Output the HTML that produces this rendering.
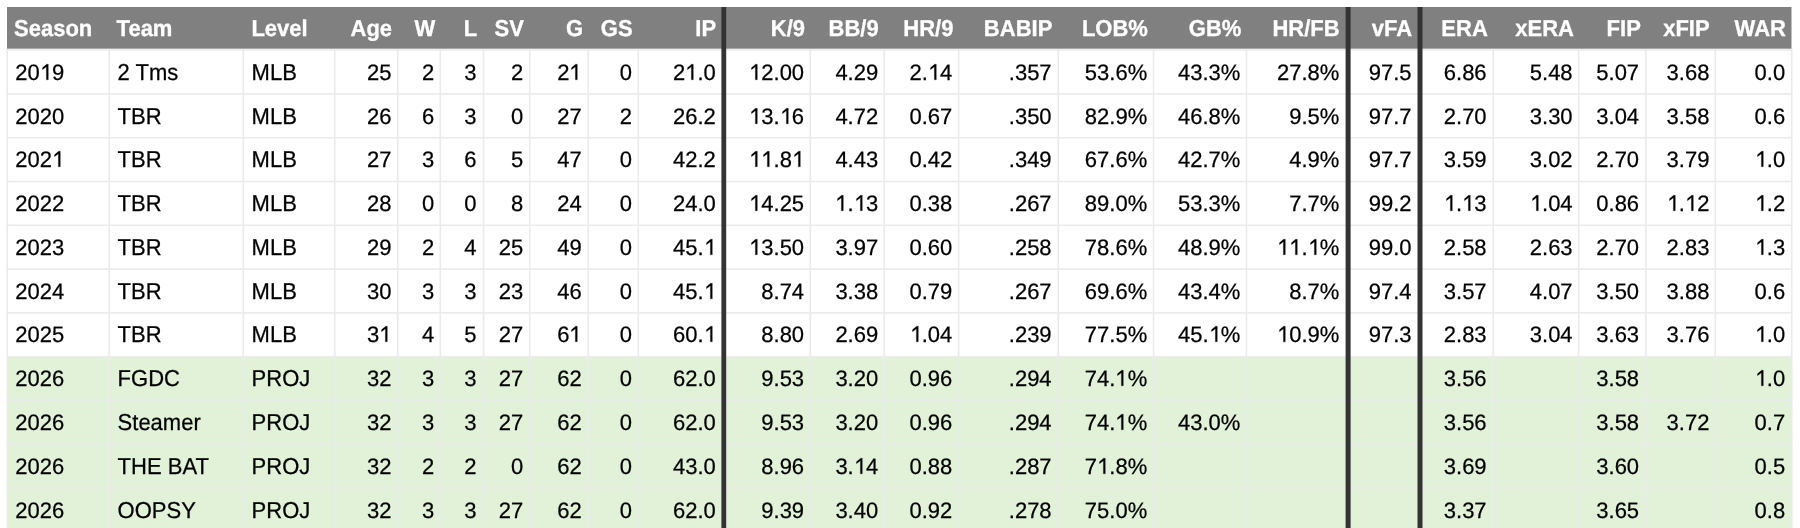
<!DOCTYPE html>
<html><head><meta charset="utf-8"><title>Pitching Stats</title>
<style>
html,body{margin:0;padding:0;background:#fff;}
body{width:1800px;height:528px;overflow:hidden;position:relative;font-family:"Liberation Sans",sans-serif;font-size:22px;color:#000;}
.bg{position:absolute;left:0;top:0;}
.tl{position:absolute;left:0;top:0;width:1800px;height:528px;will-change:transform;}
.t{position:absolute;white-space:nowrap;line-height:1;text-rendering:geometricPrecision;transform:scaleY(1.045);transform-origin:0 17.6px;-webkit-text-stroke:0.25px currentColor;}
.o{display:inline-block;width:12.232px;height:15.840px;vertical-align:baseline;fill:currentColor;stroke:currentColor;stroke-width:11.4;overflow:visible;}
.th{font-weight:bold;color:#fff;-webkit-text-stroke:0.3px #fff;}
</style></head><body>
<svg class="bg" width="1800" height="528" viewBox="0 0 1800 528"><rect x="7.00" y="7.00" width="1784.50" height="41.80" fill="#808080"/><rect x="7.00" y="356.66" width="1784.50" height="44.28" fill="#e1f2d9"/><rect x="7.00" y="400.44" width="1784.50" height="44.28" fill="#e1f2d9"/><rect x="7.00" y="444.22" width="1784.50" height="44.28" fill="#e1f2d9"/><rect x="7.00" y="488.00" width="1784.50" height="44.28" fill="#e1f2d9"/><rect x="6.20" y="48.80" width="1786.10" height="1.80" fill="#ebebeb"/><rect x="6.20" y="93.18" width="1786.10" height="1.60" fill="#ebebeb"/><rect x="6.20" y="136.96" width="1786.10" height="1.60" fill="#ebebeb"/><rect x="6.20" y="180.74" width="1786.10" height="1.60" fill="#ebebeb"/><rect x="6.20" y="224.52" width="1786.10" height="1.60" fill="#ebebeb"/><rect x="6.20" y="268.30" width="1786.10" height="1.60" fill="#ebebeb"/><rect x="6.20" y="312.08" width="1786.10" height="1.60" fill="#ebebeb"/><rect x="6.20" y="355.86" width="1786.10" height="1.60" fill="#ebebeb"/><rect x="6.20" y="399.64" width="1786.10" height="1.60" fill="#ebebeb"/><rect x="6.20" y="443.42" width="1786.10" height="1.60" fill="#ebebeb"/><rect x="6.20" y="487.20" width="1786.10" height="1.60" fill="#ebebeb"/><rect x="6.45" y="49.60" width="1.60" height="479.20" fill="#ebebeb"/><rect x="108.45" y="49.60" width="1.60" height="479.20" fill="#ebebeb"/><rect x="242.45" y="49.60" width="1.60" height="479.20" fill="#ebebeb"/><rect x="333.95" y="49.60" width="1.60" height="479.20" fill="#ebebeb"/><rect x="396.95" y="49.60" width="1.60" height="479.20" fill="#ebebeb"/><rect x="439.45" y="49.60" width="1.60" height="479.20" fill="#ebebeb"/><rect x="482.75" y="49.60" width="1.60" height="479.20" fill="#ebebeb"/><rect x="528.95" y="49.60" width="1.60" height="479.20" fill="#ebebeb"/><rect x="587.45" y="49.60" width="1.60" height="479.20" fill="#ebebeb"/><rect x="637.45" y="49.60" width="1.60" height="479.20" fill="#ebebeb"/><rect x="809.45" y="49.60" width="1.60" height="479.20" fill="#ebebeb"/><rect x="883.45" y="49.60" width="1.60" height="479.20" fill="#ebebeb"/><rect x="957.85" y="49.60" width="1.60" height="479.20" fill="#ebebeb"/><rect x="1057.45" y="49.60" width="1.60" height="479.20" fill="#ebebeb"/><rect x="1152.75" y="49.60" width="1.60" height="479.20" fill="#ebebeb"/><rect x="1245.65" y="49.60" width="1.60" height="479.20" fill="#ebebeb"/><rect x="1492.45" y="49.60" width="1.60" height="479.20" fill="#ebebeb"/><rect x="1577.85" y="49.60" width="1.60" height="479.20" fill="#ebebeb"/><rect x="1645.05" y="49.60" width="1.60" height="479.20" fill="#ebebeb"/><rect x="1714.45" y="49.60" width="1.60" height="479.20" fill="#ebebeb"/><rect x="1790.95" y="49.60" width="1.60" height="479.20" fill="#ebebeb"/><rect x="721.40" y="7.00" width="4.80" height="521.00" fill="#333333"/><rect x="1345.60" y="7.00" width="5.00" height="521.00" fill="#333333"/><rect x="1417.50" y="7.00" width="5.00" height="521.00" fill="#333333"/></svg>
<div class="tl">
<div class="t th" style="left:14.00px;top:18.00px">Season</div>
<div class="t th" style="left:116.60px;top:18.00px">Team</div>
<div class="t th" style="left:251.40px;top:18.00px">Level</div>
<div class="t th" style="right:1407.90px;top:18.00px">Age</div>
<div class="t th" style="right:1364.70px;top:18.00px">W</div>
<div class="t th" style="right:1322.80px;top:18.00px">L</div>
<div class="t th" style="right:1276.10px;top:18.00px">SV</div>
<div class="t th" style="right:1217.00px;top:18.00px">G</div>
<div class="t th" style="right:1167.40px;top:18.00px">GS</div>
<div class="t th" style="right:1083.90px;top:18.00px">IP</div>
<div class="t th" style="right:994.90px;top:18.00px">K/9</div>
<div class="t th" style="right:921.30px;top:18.00px">BB/9</div>
<div class="t th" style="right:846.60px;top:18.00px">HR/9</div>
<div class="t th" style="right:747.70px;top:18.00px">BABIP</div>
<div class="t th" style="right:652.10px;top:18.00px">LOB%</div>
<div class="t th" style="right:558.60px;top:18.00px">GB%</div>
<div class="t th" style="right:460.40px;top:18.00px">HR/FB</div>
<div class="t th" style="right:387.90px;top:18.00px">vFA</div>
<div class="t th" style="right:312.20px;top:18.00px">ERA</div>
<div class="t th" style="right:226.10px;top:18.00px">xERA</div>
<div class="t th" style="right:159.20px;top:18.00px">FIP</div>
<div class="t th" style="right:90.40px;top:18.00px">xFIP</div>
<div class="t th" style="right:14.10px;top:18.00px">WAR</div>
<div class="t" style="transform:scaleY(1.0120);left:15.20px;top:61.80px">20<svg class="o" viewBox="0 -720 556 720"><path d="M378 0L290 0L290 -585L112 -458L112 -540L300 -702L378 -702Z"/></svg>9</div>
<div class="t" style="left:117.60px;top:61.80px">2 Tms</div>
<div class="t" style="left:251.60px;top:61.80px">MLB</div>
<div class="t" style="transform:scaleY(1.0120);right:1408.60px;top:61.80px">25</div>
<div class="t" style="transform:scaleY(1.0120);right:1365.80px;top:61.80px">2</div>
<div class="t" style="transform:scaleY(1.0120);right:1323.50px;top:61.80px">3</div>
<div class="t" style="transform:scaleY(1.0120);right:1276.80px;top:61.80px">2</div>
<div class="t" style="transform:scaleY(1.0120);right:1218.30px;top:61.80px">2<svg class="o" viewBox="0 -720 556 720"><path d="M378 0L290 0L290 -585L112 -458L112 -540L300 -702L378 -702Z"/></svg></div>
<div class="t" style="transform:scaleY(1.0120);right:1168.10px;top:61.80px">0</div>
<div class="t" style="transform:scaleY(1.0120);right:1084.20px;top:61.80px">2<svg class="o" viewBox="0 -720 556 720"><path d="M378 0L290 0L290 -585L112 -458L112 -540L300 -702L378 -702Z"/></svg>.0</div>
<div class="t" style="transform:scaleY(1.0120);right:995.90px;top:61.80px"><svg class="o" viewBox="0 -720 556 720"><path d="M378 0L290 0L290 -585L112 -458L112 -540L300 -702L378 -702Z"/></svg>2.00</div>
<div class="t" style="transform:scaleY(1.0120);right:921.80px;top:61.80px">4.29</div>
<div class="t" style="transform:scaleY(1.0120);right:847.70px;top:61.80px">2.<svg class="o" viewBox="0 -720 556 720"><path d="M378 0L290 0L290 -585L112 -458L112 -540L300 -702L378 -702Z"/></svg>4</div>
<div class="t" style="transform:scaleY(1.0120);right:748.40px;top:61.80px">.357</div>
<div class="t" style="transform:scaleY(1.0120);right:652.80px;top:61.80px">53.6%</div>
<div class="t" style="transform:scaleY(1.0120);right:559.60px;top:61.80px">43.3%</div>
<div class="t" style="transform:scaleY(1.0120);right:460.60px;top:61.80px">27.8%</div>
<div class="t" style="transform:scaleY(1.0120);right:388.40px;top:61.80px">97.5</div>
<div class="t" style="transform:scaleY(1.0120);right:313.40px;top:61.80px">6.86</div>
<div class="t" style="transform:scaleY(1.0120);right:227.40px;top:61.80px">5.48</div>
<div class="t" style="transform:scaleY(1.0120);right:160.90px;top:61.80px">5.07</div>
<div class="t" style="transform:scaleY(1.0120);right:90.60px;top:61.80px">3.68</div>
<div class="t" style="transform:scaleY(1.0120);right:14.80px;top:61.80px">0.0</div>
<div class="t" style="transform:scaleY(1.0120);left:15.20px;top:105.58px">2020</div>
<div class="t" style="left:117.60px;top:105.58px">TBR</div>
<div class="t" style="left:251.60px;top:105.58px">MLB</div>
<div class="t" style="transform:scaleY(1.0120);right:1408.60px;top:105.58px">26</div>
<div class="t" style="transform:scaleY(1.0120);right:1365.80px;top:105.58px">6</div>
<div class="t" style="transform:scaleY(1.0120);right:1323.50px;top:105.58px">3</div>
<div class="t" style="transform:scaleY(1.0120);right:1276.80px;top:105.58px">0</div>
<div class="t" style="transform:scaleY(1.0120);right:1218.30px;top:105.58px">27</div>
<div class="t" style="transform:scaleY(1.0120);right:1168.10px;top:105.58px">2</div>
<div class="t" style="transform:scaleY(1.0120);right:1084.20px;top:105.58px">26.2</div>
<div class="t" style="transform:scaleY(1.0120);right:995.90px;top:105.58px"><svg class="o" viewBox="0 -720 556 720"><path d="M378 0L290 0L290 -585L112 -458L112 -540L300 -702L378 -702Z"/></svg>3.<svg class="o" viewBox="0 -720 556 720"><path d="M378 0L290 0L290 -585L112 -458L112 -540L300 -702L378 -702Z"/></svg>6</div>
<div class="t" style="transform:scaleY(1.0120);right:921.80px;top:105.58px">4.72</div>
<div class="t" style="transform:scaleY(1.0120);right:847.70px;top:105.58px">0.67</div>
<div class="t" style="transform:scaleY(1.0120);right:748.40px;top:105.58px">.350</div>
<div class="t" style="transform:scaleY(1.0120);right:652.80px;top:105.58px">82.9%</div>
<div class="t" style="transform:scaleY(1.0120);right:559.60px;top:105.58px">46.8%</div>
<div class="t" style="transform:scaleY(1.0120);right:460.60px;top:105.58px">9.5%</div>
<div class="t" style="transform:scaleY(1.0120);right:388.40px;top:105.58px">97.7</div>
<div class="t" style="transform:scaleY(1.0120);right:313.40px;top:105.58px">2.70</div>
<div class="t" style="transform:scaleY(1.0120);right:227.40px;top:105.58px">3.30</div>
<div class="t" style="transform:scaleY(1.0120);right:160.90px;top:105.58px">3.04</div>
<div class="t" style="transform:scaleY(1.0120);right:90.60px;top:105.58px">3.58</div>
<div class="t" style="transform:scaleY(1.0120);right:14.80px;top:105.58px">0.6</div>
<div class="t" style="transform:scaleY(1.0120);left:15.20px;top:149.36px">202<svg class="o" viewBox="0 -720 556 720"><path d="M378 0L290 0L290 -585L112 -458L112 -540L300 -702L378 -702Z"/></svg></div>
<div class="t" style="left:117.60px;top:149.36px">TBR</div>
<div class="t" style="left:251.60px;top:149.36px">MLB</div>
<div class="t" style="transform:scaleY(1.0120);right:1408.60px;top:149.36px">27</div>
<div class="t" style="transform:scaleY(1.0120);right:1365.80px;top:149.36px">3</div>
<div class="t" style="transform:scaleY(1.0120);right:1323.50px;top:149.36px">6</div>
<div class="t" style="transform:scaleY(1.0120);right:1276.80px;top:149.36px">5</div>
<div class="t" style="transform:scaleY(1.0120);right:1218.30px;top:149.36px">47</div>
<div class="t" style="transform:scaleY(1.0120);right:1168.10px;top:149.36px">0</div>
<div class="t" style="transform:scaleY(1.0120);right:1084.20px;top:149.36px">42.2</div>
<div class="t" style="transform:scaleY(1.0120);right:995.90px;top:149.36px"><svg class="o" viewBox="0 -720 556 720"><path d="M378 0L290 0L290 -585L112 -458L112 -540L300 -702L378 -702Z"/></svg><svg class="o" viewBox="0 -720 556 720"><path d="M378 0L290 0L290 -585L112 -458L112 -540L300 -702L378 -702Z"/></svg>.8<svg class="o" viewBox="0 -720 556 720"><path d="M378 0L290 0L290 -585L112 -458L112 -540L300 -702L378 -702Z"/></svg></div>
<div class="t" style="transform:scaleY(1.0120);right:921.80px;top:149.36px">4.43</div>
<div class="t" style="transform:scaleY(1.0120);right:847.70px;top:149.36px">0.42</div>
<div class="t" style="transform:scaleY(1.0120);right:748.40px;top:149.36px">.349</div>
<div class="t" style="transform:scaleY(1.0120);right:652.80px;top:149.36px">67.6%</div>
<div class="t" style="transform:scaleY(1.0120);right:559.60px;top:149.36px">42.7%</div>
<div class="t" style="transform:scaleY(1.0120);right:460.60px;top:149.36px">4.9%</div>
<div class="t" style="transform:scaleY(1.0120);right:388.40px;top:149.36px">97.7</div>
<div class="t" style="transform:scaleY(1.0120);right:313.40px;top:149.36px">3.59</div>
<div class="t" style="transform:scaleY(1.0120);right:227.40px;top:149.36px">3.02</div>
<div class="t" style="transform:scaleY(1.0120);right:160.90px;top:149.36px">2.70</div>
<div class="t" style="transform:scaleY(1.0120);right:90.60px;top:149.36px">3.79</div>
<div class="t" style="transform:scaleY(1.0120);right:14.80px;top:149.36px"><svg class="o" viewBox="0 -720 556 720"><path d="M378 0L290 0L290 -585L112 -458L112 -540L300 -702L378 -702Z"/></svg>.0</div>
<div class="t" style="transform:scaleY(1.0120);left:15.20px;top:193.14px">2022</div>
<div class="t" style="left:117.60px;top:193.14px">TBR</div>
<div class="t" style="left:251.60px;top:193.14px">MLB</div>
<div class="t" style="transform:scaleY(1.0120);right:1408.60px;top:193.14px">28</div>
<div class="t" style="transform:scaleY(1.0120);right:1365.80px;top:193.14px">0</div>
<div class="t" style="transform:scaleY(1.0120);right:1323.50px;top:193.14px">0</div>
<div class="t" style="transform:scaleY(1.0120);right:1276.80px;top:193.14px">8</div>
<div class="t" style="transform:scaleY(1.0120);right:1218.30px;top:193.14px">24</div>
<div class="t" style="transform:scaleY(1.0120);right:1168.10px;top:193.14px">0</div>
<div class="t" style="transform:scaleY(1.0120);right:1084.20px;top:193.14px">24.0</div>
<div class="t" style="transform:scaleY(1.0120);right:995.90px;top:193.14px"><svg class="o" viewBox="0 -720 556 720"><path d="M378 0L290 0L290 -585L112 -458L112 -540L300 -702L378 -702Z"/></svg>4.25</div>
<div class="t" style="transform:scaleY(1.0120);right:921.80px;top:193.14px"><svg class="o" viewBox="0 -720 556 720"><path d="M378 0L290 0L290 -585L112 -458L112 -540L300 -702L378 -702Z"/></svg>.<svg class="o" viewBox="0 -720 556 720"><path d="M378 0L290 0L290 -585L112 -458L112 -540L300 -702L378 -702Z"/></svg>3</div>
<div class="t" style="transform:scaleY(1.0120);right:847.70px;top:193.14px">0.38</div>
<div class="t" style="transform:scaleY(1.0120);right:748.40px;top:193.14px">.267</div>
<div class="t" style="transform:scaleY(1.0120);right:652.80px;top:193.14px">89.0%</div>
<div class="t" style="transform:scaleY(1.0120);right:559.60px;top:193.14px">53.3%</div>
<div class="t" style="transform:scaleY(1.0120);right:460.60px;top:193.14px">7.7%</div>
<div class="t" style="transform:scaleY(1.0120);right:388.40px;top:193.14px">99.2</div>
<div class="t" style="transform:scaleY(1.0120);right:313.40px;top:193.14px"><svg class="o" viewBox="0 -720 556 720"><path d="M378 0L290 0L290 -585L112 -458L112 -540L300 -702L378 -702Z"/></svg>.<svg class="o" viewBox="0 -720 556 720"><path d="M378 0L290 0L290 -585L112 -458L112 -540L300 -702L378 -702Z"/></svg>3</div>
<div class="t" style="transform:scaleY(1.0120);right:227.40px;top:193.14px"><svg class="o" viewBox="0 -720 556 720"><path d="M378 0L290 0L290 -585L112 -458L112 -540L300 -702L378 -702Z"/></svg>.04</div>
<div class="t" style="transform:scaleY(1.0120);right:160.90px;top:193.14px">0.86</div>
<div class="t" style="transform:scaleY(1.0120);right:90.60px;top:193.14px"><svg class="o" viewBox="0 -720 556 720"><path d="M378 0L290 0L290 -585L112 -458L112 -540L300 -702L378 -702Z"/></svg>.<svg class="o" viewBox="0 -720 556 720"><path d="M378 0L290 0L290 -585L112 -458L112 -540L300 -702L378 -702Z"/></svg>2</div>
<div class="t" style="transform:scaleY(1.0120);right:14.80px;top:193.14px"><svg class="o" viewBox="0 -720 556 720"><path d="M378 0L290 0L290 -585L112 -458L112 -540L300 -702L378 -702Z"/></svg>.2</div>
<div class="t" style="transform:scaleY(1.0120);left:15.20px;top:236.92px">2023</div>
<div class="t" style="left:117.60px;top:236.92px">TBR</div>
<div class="t" style="left:251.60px;top:236.92px">MLB</div>
<div class="t" style="transform:scaleY(1.0120);right:1408.60px;top:236.92px">29</div>
<div class="t" style="transform:scaleY(1.0120);right:1365.80px;top:236.92px">2</div>
<div class="t" style="transform:scaleY(1.0120);right:1323.50px;top:236.92px">4</div>
<div class="t" style="transform:scaleY(1.0120);right:1276.80px;top:236.92px">25</div>
<div class="t" style="transform:scaleY(1.0120);right:1218.30px;top:236.92px">49</div>
<div class="t" style="transform:scaleY(1.0120);right:1168.10px;top:236.92px">0</div>
<div class="t" style="transform:scaleY(1.0120);right:1084.20px;top:236.92px">45.<svg class="o" viewBox="0 -720 556 720"><path d="M378 0L290 0L290 -585L112 -458L112 -540L300 -702L378 -702Z"/></svg></div>
<div class="t" style="transform:scaleY(1.0120);right:995.90px;top:236.92px"><svg class="o" viewBox="0 -720 556 720"><path d="M378 0L290 0L290 -585L112 -458L112 -540L300 -702L378 -702Z"/></svg>3.50</div>
<div class="t" style="transform:scaleY(1.0120);right:921.80px;top:236.92px">3.97</div>
<div class="t" style="transform:scaleY(1.0120);right:847.70px;top:236.92px">0.60</div>
<div class="t" style="transform:scaleY(1.0120);right:748.40px;top:236.92px">.258</div>
<div class="t" style="transform:scaleY(1.0120);right:652.80px;top:236.92px">78.6%</div>
<div class="t" style="transform:scaleY(1.0120);right:559.60px;top:236.92px">48.9%</div>
<div class="t" style="transform:scaleY(1.0120);right:460.60px;top:236.92px"><svg class="o" viewBox="0 -720 556 720"><path d="M378 0L290 0L290 -585L112 -458L112 -540L300 -702L378 -702Z"/></svg><svg class="o" viewBox="0 -720 556 720"><path d="M378 0L290 0L290 -585L112 -458L112 -540L300 -702L378 -702Z"/></svg>.<svg class="o" viewBox="0 -720 556 720"><path d="M378 0L290 0L290 -585L112 -458L112 -540L300 -702L378 -702Z"/></svg>%</div>
<div class="t" style="transform:scaleY(1.0120);right:388.40px;top:236.92px">99.0</div>
<div class="t" style="transform:scaleY(1.0120);right:313.40px;top:236.92px">2.58</div>
<div class="t" style="transform:scaleY(1.0120);right:227.40px;top:236.92px">2.63</div>
<div class="t" style="transform:scaleY(1.0120);right:160.90px;top:236.92px">2.70</div>
<div class="t" style="transform:scaleY(1.0120);right:90.60px;top:236.92px">2.83</div>
<div class="t" style="transform:scaleY(1.0120);right:14.80px;top:236.92px"><svg class="o" viewBox="0 -720 556 720"><path d="M378 0L290 0L290 -585L112 -458L112 -540L300 -702L378 -702Z"/></svg>.3</div>
<div class="t" style="transform:scaleY(1.0120);left:15.20px;top:280.70px">2024</div>
<div class="t" style="left:117.60px;top:280.70px">TBR</div>
<div class="t" style="left:251.60px;top:280.70px">MLB</div>
<div class="t" style="transform:scaleY(1.0120);right:1408.60px;top:280.70px">30</div>
<div class="t" style="transform:scaleY(1.0120);right:1365.80px;top:280.70px">3</div>
<div class="t" style="transform:scaleY(1.0120);right:1323.50px;top:280.70px">3</div>
<div class="t" style="transform:scaleY(1.0120);right:1276.80px;top:280.70px">23</div>
<div class="t" style="transform:scaleY(1.0120);right:1218.30px;top:280.70px">46</div>
<div class="t" style="transform:scaleY(1.0120);right:1168.10px;top:280.70px">0</div>
<div class="t" style="transform:scaleY(1.0120);right:1084.20px;top:280.70px">45.<svg class="o" viewBox="0 -720 556 720"><path d="M378 0L290 0L290 -585L112 -458L112 -540L300 -702L378 -702Z"/></svg></div>
<div class="t" style="transform:scaleY(1.0120);right:995.90px;top:280.70px">8.74</div>
<div class="t" style="transform:scaleY(1.0120);right:921.80px;top:280.70px">3.38</div>
<div class="t" style="transform:scaleY(1.0120);right:847.70px;top:280.70px">0.79</div>
<div class="t" style="transform:scaleY(1.0120);right:748.40px;top:280.70px">.267</div>
<div class="t" style="transform:scaleY(1.0120);right:652.80px;top:280.70px">69.6%</div>
<div class="t" style="transform:scaleY(1.0120);right:559.60px;top:280.70px">43.4%</div>
<div class="t" style="transform:scaleY(1.0120);right:460.60px;top:280.70px">8.7%</div>
<div class="t" style="transform:scaleY(1.0120);right:388.40px;top:280.70px">97.4</div>
<div class="t" style="transform:scaleY(1.0120);right:313.40px;top:280.70px">3.57</div>
<div class="t" style="transform:scaleY(1.0120);right:227.40px;top:280.70px">4.07</div>
<div class="t" style="transform:scaleY(1.0120);right:160.90px;top:280.70px">3.50</div>
<div class="t" style="transform:scaleY(1.0120);right:90.60px;top:280.70px">3.88</div>
<div class="t" style="transform:scaleY(1.0120);right:14.80px;top:280.70px">0.6</div>
<div class="t" style="transform:scaleY(1.0120);left:15.20px;top:324.48px">2025</div>
<div class="t" style="left:117.60px;top:324.48px">TBR</div>
<div class="t" style="left:251.60px;top:324.48px">MLB</div>
<div class="t" style="transform:scaleY(1.0120);right:1408.60px;top:324.48px">3<svg class="o" viewBox="0 -720 556 720"><path d="M378 0L290 0L290 -585L112 -458L112 -540L300 -702L378 -702Z"/></svg></div>
<div class="t" style="transform:scaleY(1.0120);right:1365.80px;top:324.48px">4</div>
<div class="t" style="transform:scaleY(1.0120);right:1323.50px;top:324.48px">5</div>
<div class="t" style="transform:scaleY(1.0120);right:1276.80px;top:324.48px">27</div>
<div class="t" style="transform:scaleY(1.0120);right:1218.30px;top:324.48px">6<svg class="o" viewBox="0 -720 556 720"><path d="M378 0L290 0L290 -585L112 -458L112 -540L300 -702L378 -702Z"/></svg></div>
<div class="t" style="transform:scaleY(1.0120);right:1168.10px;top:324.48px">0</div>
<div class="t" style="transform:scaleY(1.0120);right:1084.20px;top:324.48px">60.<svg class="o" viewBox="0 -720 556 720"><path d="M378 0L290 0L290 -585L112 -458L112 -540L300 -702L378 -702Z"/></svg></div>
<div class="t" style="transform:scaleY(1.0120);right:995.90px;top:324.48px">8.80</div>
<div class="t" style="transform:scaleY(1.0120);right:921.80px;top:324.48px">2.69</div>
<div class="t" style="transform:scaleY(1.0120);right:847.70px;top:324.48px"><svg class="o" viewBox="0 -720 556 720"><path d="M378 0L290 0L290 -585L112 -458L112 -540L300 -702L378 -702Z"/></svg>.04</div>
<div class="t" style="transform:scaleY(1.0120);right:748.40px;top:324.48px">.239</div>
<div class="t" style="transform:scaleY(1.0120);right:652.80px;top:324.48px">77.5%</div>
<div class="t" style="transform:scaleY(1.0120);right:559.60px;top:324.48px">45.<svg class="o" viewBox="0 -720 556 720"><path d="M378 0L290 0L290 -585L112 -458L112 -540L300 -702L378 -702Z"/></svg>%</div>
<div class="t" style="transform:scaleY(1.0120);right:460.60px;top:324.48px"><svg class="o" viewBox="0 -720 556 720"><path d="M378 0L290 0L290 -585L112 -458L112 -540L300 -702L378 -702Z"/></svg>0.9%</div>
<div class="t" style="transform:scaleY(1.0120);right:388.40px;top:324.48px">97.3</div>
<div class="t" style="transform:scaleY(1.0120);right:313.40px;top:324.48px">2.83</div>
<div class="t" style="transform:scaleY(1.0120);right:227.40px;top:324.48px">3.04</div>
<div class="t" style="transform:scaleY(1.0120);right:160.90px;top:324.48px">3.63</div>
<div class="t" style="transform:scaleY(1.0120);right:90.60px;top:324.48px">3.76</div>
<div class="t" style="transform:scaleY(1.0120);right:14.80px;top:324.48px"><svg class="o" viewBox="0 -720 556 720"><path d="M378 0L290 0L290 -585L112 -458L112 -540L300 -702L378 -702Z"/></svg>.0</div>
<div class="t" style="transform:scaleY(1.0120);left:15.20px;top:368.26px">2026</div>
<div class="t" style="left:117.60px;top:368.26px">FGDC</div>
<div class="t" style="left:251.60px;top:368.26px">PROJ</div>
<div class="t" style="transform:scaleY(1.0120);right:1408.60px;top:368.26px">32</div>
<div class="t" style="transform:scaleY(1.0120);right:1365.80px;top:368.26px">3</div>
<div class="t" style="transform:scaleY(1.0120);right:1323.50px;top:368.26px">3</div>
<div class="t" style="transform:scaleY(1.0120);right:1276.80px;top:368.26px">27</div>
<div class="t" style="transform:scaleY(1.0120);right:1218.30px;top:368.26px">62</div>
<div class="t" style="transform:scaleY(1.0120);right:1168.10px;top:368.26px">0</div>
<div class="t" style="transform:scaleY(1.0120);right:1084.20px;top:368.26px">62.0</div>
<div class="t" style="transform:scaleY(1.0120);right:995.90px;top:368.26px">9.53</div>
<div class="t" style="transform:scaleY(1.0120);right:921.80px;top:368.26px">3.20</div>
<div class="t" style="transform:scaleY(1.0120);right:847.70px;top:368.26px">0.96</div>
<div class="t" style="transform:scaleY(1.0120);right:748.40px;top:368.26px">.294</div>
<div class="t" style="transform:scaleY(1.0120);right:652.80px;top:368.26px">74.<svg class="o" viewBox="0 -720 556 720"><path d="M378 0L290 0L290 -585L112 -458L112 -540L300 -702L378 -702Z"/></svg>%</div>
<div class="t" style="transform:scaleY(1.0120);right:313.40px;top:368.26px">3.56</div>
<div class="t" style="transform:scaleY(1.0120);right:160.90px;top:368.26px">3.58</div>
<div class="t" style="transform:scaleY(1.0120);right:14.80px;top:368.26px"><svg class="o" viewBox="0 -720 556 720"><path d="M378 0L290 0L290 -585L112 -458L112 -540L300 -702L378 -702Z"/></svg>.0</div>
<div class="t" style="transform:scaleY(1.0120);left:15.20px;top:412.04px">2026</div>
<div class="t" style="left:117.60px;top:412.04px">Steamer</div>
<div class="t" style="left:251.60px;top:412.04px">PROJ</div>
<div class="t" style="transform:scaleY(1.0120);right:1408.60px;top:412.04px">32</div>
<div class="t" style="transform:scaleY(1.0120);right:1365.80px;top:412.04px">3</div>
<div class="t" style="transform:scaleY(1.0120);right:1323.50px;top:412.04px">3</div>
<div class="t" style="transform:scaleY(1.0120);right:1276.80px;top:412.04px">27</div>
<div class="t" style="transform:scaleY(1.0120);right:1218.30px;top:412.04px">62</div>
<div class="t" style="transform:scaleY(1.0120);right:1168.10px;top:412.04px">0</div>
<div class="t" style="transform:scaleY(1.0120);right:1084.20px;top:412.04px">62.0</div>
<div class="t" style="transform:scaleY(1.0120);right:995.90px;top:412.04px">9.53</div>
<div class="t" style="transform:scaleY(1.0120);right:921.80px;top:412.04px">3.20</div>
<div class="t" style="transform:scaleY(1.0120);right:847.70px;top:412.04px">0.96</div>
<div class="t" style="transform:scaleY(1.0120);right:748.40px;top:412.04px">.294</div>
<div class="t" style="transform:scaleY(1.0120);right:652.80px;top:412.04px">74.<svg class="o" viewBox="0 -720 556 720"><path d="M378 0L290 0L290 -585L112 -458L112 -540L300 -702L378 -702Z"/></svg>%</div>
<div class="t" style="transform:scaleY(1.0120);right:559.60px;top:412.04px">43.0%</div>
<div class="t" style="transform:scaleY(1.0120);right:313.40px;top:412.04px">3.56</div>
<div class="t" style="transform:scaleY(1.0120);right:160.90px;top:412.04px">3.58</div>
<div class="t" style="transform:scaleY(1.0120);right:90.60px;top:412.04px">3.72</div>
<div class="t" style="transform:scaleY(1.0120);right:14.80px;top:412.04px">0.7</div>
<div class="t" style="transform:scaleY(1.0120);left:15.20px;top:455.82px">2026</div>
<div class="t" style="left:117.60px;top:455.82px">THE BAT</div>
<div class="t" style="left:251.60px;top:455.82px">PROJ</div>
<div class="t" style="transform:scaleY(1.0120);right:1408.60px;top:455.82px">32</div>
<div class="t" style="transform:scaleY(1.0120);right:1365.80px;top:455.82px">2</div>
<div class="t" style="transform:scaleY(1.0120);right:1323.50px;top:455.82px">2</div>
<div class="t" style="transform:scaleY(1.0120);right:1276.80px;top:455.82px">0</div>
<div class="t" style="transform:scaleY(1.0120);right:1218.30px;top:455.82px">62</div>
<div class="t" style="transform:scaleY(1.0120);right:1168.10px;top:455.82px">0</div>
<div class="t" style="transform:scaleY(1.0120);right:1084.20px;top:455.82px">43.0</div>
<div class="t" style="transform:scaleY(1.0120);right:995.90px;top:455.82px">8.96</div>
<div class="t" style="transform:scaleY(1.0120);right:921.80px;top:455.82px">3.<svg class="o" viewBox="0 -720 556 720"><path d="M378 0L290 0L290 -585L112 -458L112 -540L300 -702L378 -702Z"/></svg>4</div>
<div class="t" style="transform:scaleY(1.0120);right:847.70px;top:455.82px">0.88</div>
<div class="t" style="transform:scaleY(1.0120);right:748.40px;top:455.82px">.287</div>
<div class="t" style="transform:scaleY(1.0120);right:652.80px;top:455.82px">7<svg class="o" viewBox="0 -720 556 720"><path d="M378 0L290 0L290 -585L112 -458L112 -540L300 -702L378 -702Z"/></svg>.8%</div>
<div class="t" style="transform:scaleY(1.0120);right:313.40px;top:455.82px">3.69</div>
<div class="t" style="transform:scaleY(1.0120);right:160.90px;top:455.82px">3.60</div>
<div class="t" style="transform:scaleY(1.0120);right:14.80px;top:455.82px">0.5</div>
<div class="t" style="transform:scaleY(1.0120);left:15.20px;top:499.60px">2026</div>
<div class="t" style="left:117.60px;top:499.60px">OOPSY</div>
<div class="t" style="left:251.60px;top:499.60px">PROJ</div>
<div class="t" style="transform:scaleY(1.0120);right:1408.60px;top:499.60px">32</div>
<div class="t" style="transform:scaleY(1.0120);right:1365.80px;top:499.60px">3</div>
<div class="t" style="transform:scaleY(1.0120);right:1323.50px;top:499.60px">3</div>
<div class="t" style="transform:scaleY(1.0120);right:1276.80px;top:499.60px">27</div>
<div class="t" style="transform:scaleY(1.0120);right:1218.30px;top:499.60px">62</div>
<div class="t" style="transform:scaleY(1.0120);right:1168.10px;top:499.60px">0</div>
<div class="t" style="transform:scaleY(1.0120);right:1084.20px;top:499.60px">62.0</div>
<div class="t" style="transform:scaleY(1.0120);right:995.90px;top:499.60px">9.39</div>
<div class="t" style="transform:scaleY(1.0120);right:921.80px;top:499.60px">3.40</div>
<div class="t" style="transform:scaleY(1.0120);right:847.70px;top:499.60px">0.92</div>
<div class="t" style="transform:scaleY(1.0120);right:748.40px;top:499.60px">.278</div>
<div class="t" style="transform:scaleY(1.0120);right:652.80px;top:499.60px">75.0%</div>
<div class="t" style="transform:scaleY(1.0120);right:313.40px;top:499.60px">3.37</div>
<div class="t" style="transform:scaleY(1.0120);right:160.90px;top:499.60px">3.65</div>
<div class="t" style="transform:scaleY(1.0120);right:14.80px;top:499.60px">0.8</div>
</div>
</body></html>
